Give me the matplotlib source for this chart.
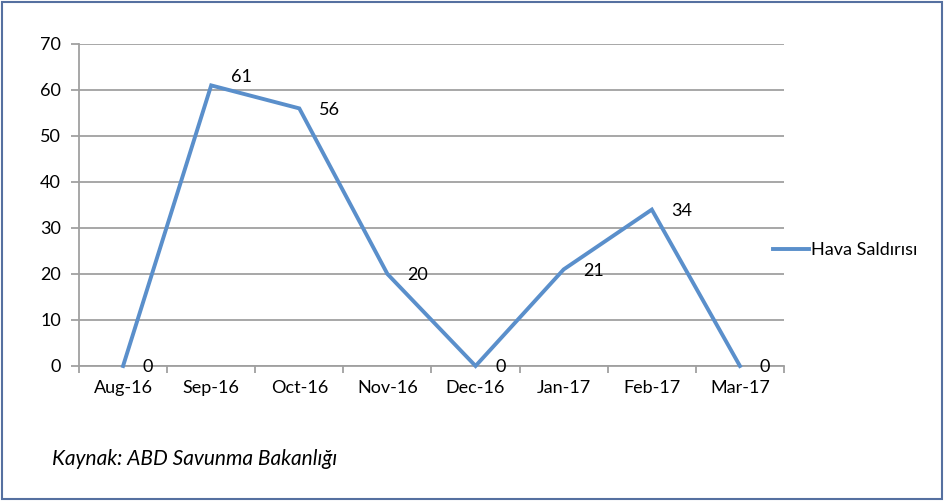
import matplotlib.pyplot as plt
from matplotlib.patches import Rectangle

months = ["Aug-16", "Sep-16", "Oct-16", "Nov-16", "Dec-16", "Jan-17", "Feb-17", "Mar-17"]
attacks = [0, 61, 56, 20, 0, 21, 34, 0]
series_name = "Hava Saldırısı"
source = "Kaynak: ABD Savunma Bakanlığı"

plt.rcParams['font.family'] = ['Lato', 'DejaVu Sans']
fs = 13

fig = plt.figure(figsize=(9.45, 5.01), dpi=100)
ax = fig.add_axes([79/945, 1-366/501, 705/945, 322/501])

x = list(range(len(months)))
line, = ax.plot(x, attacks, color='#5A8FCB', lw=2.8, solid_joinstyle='miter', label=series_name, clip_on=False, zorder=3)
# labels to the right of each point; the peak one sits a bit higher
for xi, v in zip(x, attacks):
  dy = 6 if v == max(attacks) else -1
  ax.annotate(str(v), (xi, v), xytext=(14, dy), textcoords='offset points',
              ha='left', va='center', fontsize=fs)

ax.set_xlim(-0.5, len(months)-0.5)
ax.set_ylim(0, 70)
ax.set_yticks(range(0, 71, 10))
ax.set_xticks(x)
ax.set_xticklabels(months)
ax.set_xticks([i-0.5 for i in range(len(months)+1)], minor=True)
ax.tick_params(axis='x', which='major', length=0, pad=10, labelsize=fs)
ax.tick_params(axis='x', which='minor', length=5, color='#A0A0A0', width=1.3)
ax.tick_params(axis='y', length=6, color='#A0A0A0', width=1.3, pad=7, labelsize=fs)
ax.grid(axis='y', color='#A0A0A0', lw=1.3)
ax.set_axisbelow(True)
for s in ['top', 'right']:
  ax.spines[s].set_visible(False)
for s in ['left', 'bottom']:
  ax.spines[s].set_color('#A0A0A0')
  ax.spines[s].set_linewidth(1.3)

fig.legend(handles=[line], loc='center left', bbox_to_anchor=(764/945, 1-250/501),
           frameon=False, fontsize=fs, handlelength=2.0, handletextpad=0.1, borderpad=0)

fig.text(52/945, 1-459/501, source, style='italic', fontsize=15, va='center', ha='left')

fig.patches.append(Rectangle((2/945, 2/501), 940/945, 497/501, transform=fig.transFigure,
                             fill=False, edgecolor='#5570A0', lw=1.5))

fig.savefig('out.png', dpi=100)
